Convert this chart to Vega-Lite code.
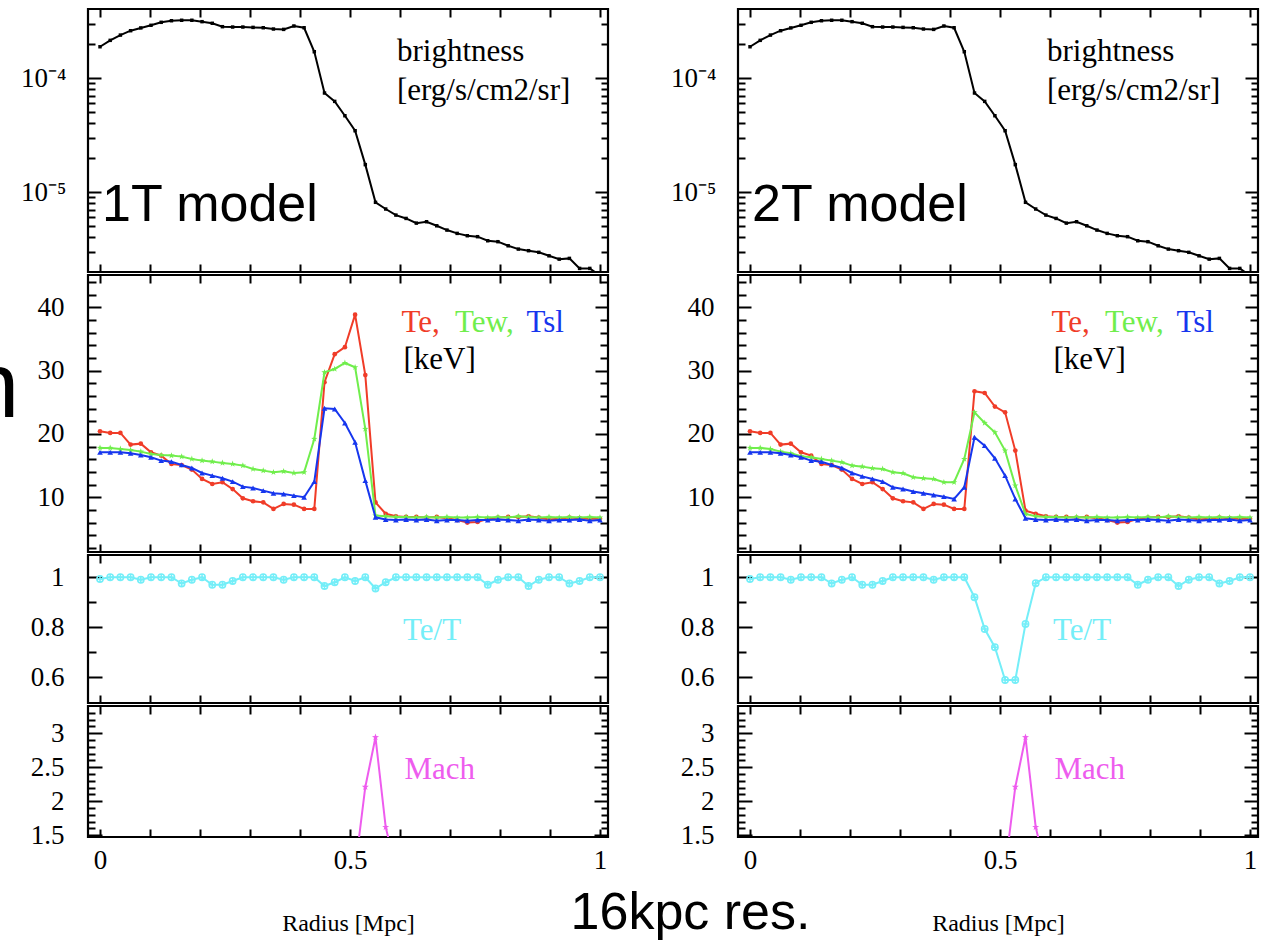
{
"$schema": "https://vega.github.io/schema/vega-lite/v6.json",
"background": "white",
"padding": {"left": -34, "top": 6, "right": 0, "bottom": 0},
"spacing": 58,
"title": {"text": "16kpc res.", "orient": "bottom", "anchor": "middle", "font": "Liberation Sans", "fontSize": 52, "fontWeight": "normal", "color": "black", "baseline": "alphabetic", "offset": -7, "dx": 77},
"config": {
  "view": {"stroke": "black", "strokeWidth": 2.2},
  "axis": {"grid": false, "domain": false, "format": "~r", "labelFont": "Liberation Serif", "labelFontSize": 27, "labelColor": "black", "tickColor": "black", "tickWidth": 2, "titleFont": "Liberation Serif", "titleFontWeight": "normal", "titleColor": "black"},
  "text": {"font": "Liberation Serif", "fontSize": 31, "align": "left", "baseline": "alphabetic"}
},
"datasets": {
  "d": [
    {"x":0,"b":1.88e-4,"te1":20.42,"tew1":17.79,"tsl1":17.11,"te2":20.42,"tew2":17.79,"tsl2":17.11,"r1":0.993,"r2":0.993},
    {"x":0.0204,"b":2.14e-4,"te1":20.16,"tew1":17.79,"tsl1":17.11,"te2":20.16,"tew2":17.79,"tsl2":17.11,"r1":1,"r2":1},
    {"x":0.0408,"b":2.38e-4,"te1":20.16,"tew1":17.63,"tsl1":17.11,"te2":20.16,"tew2":17.63,"tsl2":17.11,"r1":1,"r2":1},
    {"x":0.0612,"b":2.6e-4,"te1":18.32,"tew1":17.47,"tsl1":16.95,"te2":18.32,"tew2":17.21,"tsl2":16.95,"r1":1,"r2":1},
    {"x":0.0816,"b":2.75e-4,"te1":18.47,"tew1":17.21,"tsl1":16.68,"te2":18.47,"tew2":16.95,"tsl2":16.68,"r1":0.99,"r2":0.99},
    {"x":0.102,"b":2.9e-4,"te1":17.1,"tew1":16.84,"tsl1":16.32,"te2":17.1,"tew2":16.47,"tsl2":16.32,"r1":1,"r2":1},
    {"x":0.1224,"b":3.08e-4,"te1":16.58,"tew1":16.68,"tsl1":15.79,"te2":16.58,"tew2":16.32,"tsl2":15.79,"r1":1,"r2":1},
    {"x":0.1429,"b":3.18e-4,"te1":15.26,"tew1":16.58,"tsl1":15.63,"te2":15.26,"tew2":16.05,"tsl2":15.63,"r1":1,"r2":1},
    {"x":0.1633,"b":3.21e-4,"te1":15.1,"tew1":16.42,"tsl1":15.11,"te2":15.1,"tew2":15.79,"tsl2":15.11,"r1":0.975,"r2":0.975},
    {"x":0.1837,"b":3.21e-4,"te1":14.37,"tew1":16.05,"tsl1":14.63,"te2":14.37,"tew2":15.53,"tsl2":14.63,"r1":0.99,"r2":0.99},
    {"x":0.2041,"b":3.12e-4,"te1":12.9,"tew1":15.79,"tsl1":13.84,"te2":12.9,"tew2":15.0,"tsl2":13.84,"r1":1,"r2":1},
    {"x":0.2245,"b":3.02e-4,"te1":12.1,"tew1":15.63,"tsl1":13.42,"te2":12.1,"tew2":14.84,"tsl2":13.3,"r1":0.97,"r2":0.97},
    {"x":0.2449,"b":2.82e-4,"te1":12.37,"tew1":15.42,"tsl1":13.0,"te2":12.37,"tew2":14.58,"tsl2":12.9,"r1":0.97,"r2":0.97},
    {"x":0.2653,"b":2.8e-4,"te1":11.3,"tew1":15.26,"tsl1":12.47,"te2":11.3,"tew2":14.47,"tsl2":12.47,"r1":0.985,"r2":0.985},
    {"x":0.2857,"b":2.8e-4,"te1":9.84,"tew1":15.0,"tsl1":11.68,"te2":9.84,"tew2":13.95,"tsl2":11.58,"r1":1,"r2":1},
    {"x":0.3061,"b":2.78e-4,"te1":9.37,"tew1":14.47,"tsl1":11.47,"te2":9.37,"tew2":13.79,"tsl2":11.3,"r1":1,"r2":1},
    {"x":0.3265,"b":2.76e-4,"te1":9.2,"tew1":14.21,"tsl1":11.05,"te2":9.2,"tew2":13.16,"tsl2":10.9,"r1":1,"r2":1},
    {"x":0.3469,"b":2.69e-4,"te1":8.16,"tew1":13.95,"tsl1":10.63,"te2":8.16,"tew2":13.0,"tsl2":10.63,"r1":1,"r2":1},
    {"x":0.3673,"b":2.67e-4,"te1":8.95,"tew1":14.1,"tsl1":10.53,"te2":8.95,"tew2":12.89,"tsl2":10.37,"r1":0.99,"r2":0.99},
    {"x":0.3878,"b":2.86e-4,"te1":8.84,"tew1":13.84,"tsl1":10.26,"te2":8.84,"tew2":12.37,"tsl2":10.1,"r1":1,"r2":1},
    {"x":0.4082,"b":2.76e-4,"te1":8.16,"tew1":13.95,"tsl1":10.0,"te2":8.16,"tew2":12.37,"tsl2":9.74,"r1":1,"r2":1},
    {"x":0.4286,"b":1.7e-4,"te1":8.16,"tew1":19.21,"tsl1":12.47,"te2":8.16,"tew2":16.05,"tsl2":11.58,"r1":1,"r2":1},
    {"x":0.449,"b":7.39e-5,"te1":28.16,"tew1":29.74,"tsl1":24.05,"te2":26.74,"tew2":23.42,"tsl2":19.47,"r1":0.965,"r2":0.92},
    {"x":0.4694,"b":6.24e-5,"te1":32.6,"tew1":30.26,"tsl1":23.95,"te2":26.47,"tew2":21.74,"tsl2":18.16,"r1":0.98,"r2":0.793},
    {"x":0.4898,"b":4.67e-5,"te1":33.7,"tew1":31.21,"tsl1":21.74,"te2":24.32,"tew2":20.26,"tsl2":16.16,"r1":1,"r2":0.72},
    {"x":0.5102,"b":3.45e-5,"te1":38.84,"tew1":30.53,"tsl1":18.68,"te2":23.42,"tew2":17.37,"tsl2":13.42,"r1":0.985,"r2":0.589,"m":1.0},
    {"x":0.5306,"b":1.74e-5,"te1":29.3,"tew1":20.79,"tsl1":12.63,"te2":17.37,"tew2":11.84,"tsl2":9.74,"r1":1,"r2":0.589,"m":2.21},
    {"x":0.551,"b":8.13e-6,"te1":9.2,"tew1":7.11,"tsl1":6.84,"te2":7.89,"tew2":7.37,"tsl2":6.68,"r1":0.955,"r2":0.813,"m":2.94},
    {"x":0.5714,"b":7.1e-6,"te1":7.4,"tew1":7.0,"tsl1":6.5,"te2":7.4,"tew2":7.0,"tsl2":6.5,"r1":0.98,"r2":0.976,"m":1.62},
    {"x":0.5918,"b":6.28e-6,"te1":7.0,"tew1":6.9,"tsl1":6.4,"te2":7.0,"tew2":6.9,"tsl2":6.4,"r1":1,"r2":1,"m":1.0},
    {"x":0.6122,"b":5.87e-6,"te1":6.9,"tew1":6.9,"tsl1":6.5,"te2":6.9,"tew2":6.9,"tsl2":6.5,"r1":1,"r2":1},
    {"x":0.6327,"b":5.34e-6,"te1":6.9,"tew1":6.8,"tsl1":6.4,"te2":6.9,"tew2":6.8,"tsl2":6.4,"r1":1,"r2":1},
    {"x":0.6531,"b":5.49e-6,"te1":6.8,"tew1":6.9,"tsl1":6.5,"te2":6.8,"tew2":6.9,"tsl2":6.5,"r1":1,"r2":1},
    {"x":0.6735,"b":5.06e-6,"te1":6.9,"tew1":6.8,"tsl1":6.3,"te2":6.9,"tew2":6.8,"tsl2":6.3,"r1":1,"r2":1},
    {"x":0.6939,"b":4.64e-6,"te1":6.7,"tew1":6.9,"tsl1":6.4,"te2":6.7,"tew2":6.9,"tsl2":6.4,"r1":1,"r2":1},
    {"x":0.7143,"b":4.34e-6,"te1":6.4,"tew1":6.8,"tsl1":6.4,"te2":6.4,"tew2":6.8,"tsl2":6.4,"r1":1,"r2":1},
    {"x":0.7347,"b":4.14e-6,"te1":6.0,"tew1":6.8,"tsl1":6.3,"te2":6.0,"tew2":6.8,"tsl2":6.3,"r1":1,"r2":1},
    {"x":0.7551,"b":4.06e-6,"te1":6.1,"tew1":6.9,"tsl1":6.4,"te2":6.1,"tew2":6.9,"tsl2":6.4,"r1":1,"r2":1},
    {"x":0.7755,"b":3.74e-6,"te1":6.6,"tew1":6.8,"tsl1":6.4,"te2":6.6,"tew2":6.8,"tsl2":6.4,"r1":0.97,"r2":0.97},
    {"x":0.7959,"b":3.67e-6,"te1":6.8,"tew1":6.9,"tsl1":6.5,"te2":6.8,"tew2":6.9,"tsl2":6.5,"r1":0.99,"r2":0.99},
    {"x":0.8163,"b":3.38e-6,"te1":6.9,"tew1":6.8,"tsl1":6.4,"te2":6.9,"tew2":6.8,"tsl2":6.4,"r1":1,"r2":1},
    {"x":0.8367,"b":3.16e-6,"te1":6.9,"tew1":7.0,"tsl1":6.3,"te2":6.9,"tew2":7.0,"tsl2":6.3,"r1":1,"r2":1},
    {"x":0.8571,"b":3.06e-6,"te1":7.0,"tew1":6.9,"tsl1":6.5,"te2":7.0,"tew2":6.9,"tsl2":6.5,"r1":0.965,"r2":0.965},
    {"x":0.8776,"b":2.96e-6,"te1":6.8,"tew1":6.8,"tsl1":6.4,"te2":6.8,"tew2":6.8,"tsl2":6.4,"r1":0.99,"r2":0.99},
    {"x":0.898,"b":2.76e-6,"te1":6.5,"tew1":6.9,"tsl1":6.3,"te2":6.5,"tew2":6.9,"tsl2":6.3,"r1":1,"r2":1},
    {"x":0.9184,"b":2.58e-6,"te1":6.6,"tew1":6.8,"tsl1":6.4,"te2":6.6,"tew2":6.8,"tsl2":6.4,"r1":1,"r2":1},
    {"x":0.9388,"b":2.62e-6,"te1":6.8,"tew1":6.9,"tsl1":6.4,"te2":6.8,"tew2":6.9,"tsl2":6.4,"r1":0.975,"r2":0.975},
    {"x":0.9592,"b":2.14e-6,"te1":6.7,"tew1":6.8,"tsl1":6.5,"te2":6.7,"tew2":6.8,"tsl2":6.5,"r1":0.985,"r2":0.985},
    {"x":0.9796,"b":2.14e-6,"te1":6.6,"tew1":6.9,"tsl1":6.3,"te2":6.6,"tew2":6.9,"tsl2":6.3,"r1":1,"r2":1},
    {"x":1.0,"b":1.85e-6,"te1":6.6,"tew1":6.8,"tsl1":6.4,"te2":6.6,"tew2":6.8,"tsl2":6.4,"r1":1,"r2":1}
  ]
},
"hconcat": [
 {"vconcat": [
  {"width": 520, "height": 263, "data": {"name": "d"},
   "resolve": {"axis": {"x": "independent", "y": "independent"}},
   "layer": [
    {"mark": {"type": "line", "color": "black", "strokeWidth": 2, "clip": true, "point": {"shape": "square", "filled": true, "size": 12, "color": "black"}},
     "encoding": {"x": {"field": "x", "type": "quantitative", "scale": {"domain": [-0.024, 1.016], "nice": false, "zero": false}, "axis": null},
       "y": {"field": "b", "type": "quantitative", "scale": {"type": "log", "domain": [1.99e-6, 4.03e-4], "nice": false}, "axis": {"orient": "left", "values": [0.0001, 0.00001], "labelExpr": "datum.value > 0.00005 ? '10⁻⁴' : '10⁻⁵'", "ticks": false, "labelPadding": 22, "title": null}}}},
    {"mark": {"type": "point", "opacity": 0}, "encoding": {"x": {"field": "x", "type": "quantitative", "axis": {"orient": "bottom", "offset": -8, "tickSize": 8, "values": [0, 0.1, 0.2, 0.3, 0.4, 0.5, 0.6, 0.7, 0.8, 0.9, 1], "labels": false, "title": null}}, "y": {"field": "b", "type": "quantitative", "axis": {"orient": "left", "offset": -13, "tickSize": 13, "values": [0.0001, 0.00001], "labels": false, "title": null}}}},
    {"mark": {"type": "point", "opacity": 0}, "encoding": {"x": {"field": "x", "type": "quantitative", "axis": {"orient": "top", "offset": -8, "tickSize": 8, "values": [0, 0.1, 0.2, 0.3, 0.4, 0.5, 0.6, 0.7, 0.8, 0.9, 1], "labels": false, "title": null}}, "y": {"field": "b", "type": "quantitative", "axis": {"orient": "right", "offset": -13, "tickSize": 13, "values": [0.0001, 0.00001], "labels": false, "title": null}}}},
    {"mark": {"type": "point", "opacity": 0}, "encoding": {"x": {"field": "x", "type": "quantitative", "axis": null}, "y": {"field": "b", "type": "quantitative", "axis": {"orient": "left", "offset": -7, "tickSize": 7, "values": [3e-6, 4e-6, 5e-6, 6e-6, 7e-6, 8e-6, 9e-6, 2e-5, 3e-5, 4e-5, 5e-5, 6e-5, 7e-5, 8e-5, 9e-5, 2e-4, 3e-4], "labels": false, "title": null}}}},
    {"mark": {"type": "point", "opacity": 0}, "encoding": {"x": {"field": "x", "type": "quantitative", "axis": null}, "y": {"field": "b", "type": "quantitative", "axis": {"orient": "right", "offset": -7, "tickSize": 7, "values": [3e-6, 4e-6, 5e-6, 6e-6, 7e-6, 8e-6, 9e-6, 2e-5, 3e-5, 4e-5, 5e-5, 6e-5, 7e-5, 8e-5, 9e-5, 2e-4, 3e-4], "labels": false, "title": null}}}},
    {"data": {"values": [{}]}, "mark": {"type": "text"}, "encoding": {"x": {"datum": 0.594, "type": "quantitative", "axis": null}, "y": {"datum": 1.41e-4, "type": "quantitative", "axis": null}, "text": {"value": "brightness"}}},
    {"data": {"values": [{}]}, "mark": {"type": "text"}, "encoding": {"x": {"datum": 0.594, "type": "quantitative", "axis": null}, "y": {"datum": 6.41e-5, "type": "quantitative", "axis": null}, "text": {"value": "[erg/s/cm2/sr]"}}},
    {"data": {"values": [{}]}, "mark": {"type": "text", "font": "Liberation Sans", "fontSize": 52}, "encoding": {"x": {"datum": 0.004, "type": "quantitative", "axis": null}, "y": {"datum": 5.57e-6, "type": "quantitative", "axis": null}, "text": {"value": "1T model"}}}
   ]},
  {"width": 520, "height": 277, "data": {"name": "d"},
   "resolve": {"axis": {"x": "independent", "y": "independent"}},
   "layer": [
    {"mark": {"type": "line", "color": "#f03c28", "strokeWidth": 2, "clip": true, "point": {"shape": "circle", "filled": true, "size": 22, "color": "#f03c28"}},
     "encoding": {"x": {"field": "x", "type": "quantitative", "scale": {"domain": [-0.024, 1.016], "nice": false, "zero": false}, "axis": null},
       "y": {"field": "te1", "type": "quantitative", "scale": {"domain": [1.36, 45.1], "nice": false, "zero": false}, "axis": {"orient": "left", "values": [10, 20, 30, 40], "ticks": false, "labelPadding": 24, "title": null}}}},
    {"mark": {"type": "point", "opacity": 0}, "encoding": {"x": {"field": "x", "type": "quantitative", "axis": {"orient": "bottom", "offset": -8, "tickSize": 8, "values": [0, 0.1, 0.2, 0.3, 0.4, 0.5, 0.6, 0.7, 0.8, 0.9, 1], "labels": false, "title": null}}, "y": {"field": "te1", "type": "quantitative", "axis": {"orient": "left", "offset": -13, "tickSize": 13, "values": [10, 20, 30, 40], "labels": false, "title": null}}}},
    {"mark": {"type": "point", "opacity": 0}, "encoding": {"x": {"field": "x", "type": "quantitative", "axis": {"orient": "top", "offset": -8, "tickSize": 8, "values": [0, 0.1, 0.2, 0.3, 0.4, 0.5, 0.6, 0.7, 0.8, 0.9, 1], "labels": false, "title": null}}, "y": {"field": "te1", "type": "quantitative", "axis": {"orient": "right", "offset": -13, "tickSize": 13, "values": [10, 20, 30, 40], "labels": false, "title": null}}}},
    {"mark": {"type": "point", "opacity": 0}, "encoding": {"x": {"field": "x", "type": "quantitative", "axis": null}, "y": {"field": "te1", "type": "quantitative", "axis": {"orient": "left", "offset": -8, "tickSize": 8, "values": [2, 4, 6, 8, 12, 14, 16, 18, 22, 24, 26, 28, 32, 34, 36, 38, 42, 44], "labels": false, "title": null}}}},
    {"mark": {"type": "point", "opacity": 0}, "encoding": {"x": {"field": "x", "type": "quantitative", "axis": null}, "y": {"field": "te1", "type": "quantitative", "axis": {"orient": "right", "offset": -8, "tickSize": 8, "values": [2, 4, 6, 8, 12, 14, 16, 18, 22, 24, 26, 28, 32, 34, 36, 38, 42, 44], "labels": false, "title": null}}}},
    {"mark": {"type": "line", "color": "#70ee4c", "strokeWidth": 2, "clip": true, "point": {"shape": "M0,-1L0.235,-0.324L0.951,-0.309L0.38,0.124L0.588,0.809L0,0.4L-0.588,0.809L-0.38,0.124L-0.951,-0.309L-0.235,-0.324Z", "filled": true, "size": 45, "color": "#70ee4c"}},
     "encoding": {"x": {"field": "x", "type": "quantitative", "axis": null}, "y": {"field": "tew1", "type": "quantitative", "axis": null}}},
    {"mark": {"type": "line", "color": "#1636ee", "strokeWidth": 2, "clip": true, "point": {"shape": "triangle-up", "filled": true, "size": 32, "color": "#1636ee"}},
     "encoding": {"x": {"field": "x", "type": "quantitative", "axis": null}, "y": {"field": "tsl1", "type": "quantitative", "axis": null}}},
    {"data": {"values": [{}]}, "mark": {"type": "text", "color": "#f03c28"}, "encoding": {"x": {"datum": 0.603, "type": "quantitative", "axis": null}, "y": {"datum": 36.05, "type": "quantitative", "axis": null}, "text": {"value": "Te,"}}},
    {"data": {"values": [{}]}, "mark": {"type": "text", "color": "#70ee4c"}, "encoding": {"x": {"datum": 0.71, "type": "quantitative", "axis": null}, "y": {"datum": 36.05, "type": "quantitative", "axis": null}, "text": {"value": "Tew,"}}},
    {"data": {"values": [{}]}, "mark": {"type": "text", "color": "#1636ee"}, "encoding": {"x": {"datum": 0.853, "type": "quantitative", "axis": null}, "y": {"datum": 36.05, "type": "quantitative", "axis": null}, "text": {"value": "Tsl"}}},
    {"data": {"values": [{}]}, "mark": {"type": "text", "color": "black"}, "encoding": {"x": {"datum": 0.607, "type": "quantitative", "axis": null}, "y": {"datum": 30.26, "type": "quantitative", "axis": null}, "text": {"value": "[keV]"}}},
    {"data": {"values": [{}]}, "mark": {"type": "text", "color": "black", "font": "Liberation Sans", "fontSize": 92, "clip": false}, "encoding": {"x": {"datum": -0.264, "type": "quantitative", "axis": null}, "y": {"datum": 22.68, "type": "quantitative", "axis": null}, "text": {"value": "n"}}}
   ]},
  {"width": 520, "height": 148, "data": {"name": "d"},
   "resolve": {"axis": {"x": "independent", "y": "independent"}},
   "layer": [
    {"mark": {"type": "line", "color": "#74eef8", "strokeWidth": 2, "clip": true, "point": {"shape": "M-1,0A1,1,0,1,0,1,0A1,1,0,1,0,-1,0ZM-1,0L1,0M0,-1L0,1", "filled": false, "size": 40, "strokeWidth": 1.5, "color": "#74eef8"}},
     "encoding": {"x": {"field": "x", "type": "quantitative", "scale": {"domain": [-0.024, 1.016], "nice": false, "zero": false}, "axis": null},
       "y": {"field": "r1", "type": "quantitative", "scale": {"domain": [0.497, 1.089], "nice": false, "zero": false}, "axis": {"orient": "left", "values": [0.6, 0.8, 1], "ticks": false, "labelPadding": 24, "title": null}}}},
    {"mark": {"type": "point", "opacity": 0}, "encoding": {"x": {"field": "x", "type": "quantitative", "axis": {"orient": "bottom", "offset": -8, "tickSize": 8, "values": [0, 0.1, 0.2, 0.3, 0.4, 0.5, 0.6, 0.7, 0.8, 0.9, 1], "labels": false, "title": null}}, "y": {"field": "r1", "type": "quantitative", "axis": {"orient": "left", "offset": -14, "tickSize": 14, "values": [0.6, 0.8, 1], "labels": false, "title": null}}}},
    {"mark": {"type": "point", "opacity": 0}, "encoding": {"x": {"field": "x", "type": "quantitative", "axis": {"orient": "top", "offset": -8, "tickSize": 8, "values": [0, 0.1, 0.2, 0.3, 0.4, 0.5, 0.6, 0.7, 0.8, 0.9, 1], "labels": false, "title": null}}, "y": {"field": "r1", "type": "quantitative", "axis": {"orient": "right", "offset": -14, "tickSize": 14, "values": [0.6, 0.8, 1], "labels": false, "title": null}}}},
    {"mark": {"type": "point", "opacity": 0}, "encoding": {"x": {"field": "x", "type": "quantitative", "axis": null}, "y": {"field": "r1", "type": "quantitative", "axis": {"orient": "left", "offset": -8, "tickSize": 8, "values": [0.7, 0.9], "labels": false, "title": null}}}},
    {"mark": {"type": "point", "opacity": 0}, "encoding": {"x": {"field": "x", "type": "quantitative", "axis": null}, "y": {"field": "r1", "type": "quantitative", "axis": {"orient": "right", "offset": -8, "tickSize": 8, "values": [0.7, 0.9], "labels": false, "title": null}}}},
    {"data": {"values": [{}]}, "mark": {"type": "text", "color": "#74eef8"}, "encoding": {"x": {"datum": 0.606, "type": "quantitative", "axis": null}, "y": {"datum": 0.749, "type": "quantitative", "axis": null}, "text": {"value": "Te/T"}}}
   ]},
  {"width": 520, "height": 131, "data": {"name": "d"},
   "resolve": {"axis": {"x": "independent", "y": "independent"}},
   "layer": [
    {"mark": {"type": "line", "color": "#ee5cee", "strokeWidth": 2, "clip": true, "point": {"shape": "M0,-1L0.235,-0.324L0.951,-0.309L0.38,0.124L0.588,0.809L0,0.4L-0.588,0.809L-0.38,0.124L-0.951,-0.309L-0.235,-0.324Z", "filled": true, "size": 55, "color": "#ee5cee"}},
     "encoding": {"x": {"field": "x", "type": "quantitative", "scale": {"domain": [-0.024, 1.016], "nice": false, "zero": false}, "axis": {"orient": "bottom", "values": [0, 0.5, 1], "ticks": false, "labelPadding": 10, "title": "Radius [Mpc]", "titleFontSize": 24, "titlePadding": 38}},
       "y": {"field": "m", "type": "quantitative", "scale": {"domain": [1.475, 3.4], "nice": false, "zero": false}, "axis": {"orient": "left", "values": [1.5, 2, 2.5, 3], "ticks": false, "labelPadding": 24, "title": null}}}},
    {"mark": {"type": "point", "opacity": 0}, "encoding": {"x": {"field": "x", "type": "quantitative", "axis": {"orient": "bottom", "offset": -8, "tickSize": 8, "values": [0, 0.1, 0.2, 0.3, 0.4, 0.5, 0.6, 0.7, 0.8, 0.9, 1], "labels": false, "title": null}}, "y": {"field": "m", "type": "quantitative", "axis": {"orient": "left", "offset": -14, "tickSize": 14, "values": [1.5, 2, 2.5, 3], "labels": false, "title": null}}}},
    {"mark": {"type": "point", "opacity": 0}, "encoding": {"x": {"field": "x", "type": "quantitative", "axis": {"orient": "top", "offset": -8, "tickSize": 8, "values": [0, 0.1, 0.2, 0.3, 0.4, 0.5, 0.6, 0.7, 0.8, 0.9, 1], "labels": false, "title": null}}, "y": {"field": "m", "type": "quantitative", "axis": {"orient": "right", "offset": -14, "tickSize": 14, "values": [1.5, 2, 2.5, 3], "labels": false, "title": null}}}},
    {"mark": {"type": "point", "opacity": 0}, "encoding": {"x": {"field": "x", "type": "quantitative", "axis": null}, "y": {"field": "m", "type": "quantitative", "axis": {"orient": "left", "offset": -7, "tickSize": 7, "values": [1.6, 1.7, 1.8, 1.9, 2.1, 2.2, 2.3, 2.4, 2.6, 2.7, 2.8, 2.9, 3.1, 3.2, 3.3], "labels": false, "title": null}}}},
    {"mark": {"type": "point", "opacity": 0}, "encoding": {"x": {"field": "x", "type": "quantitative", "axis": null}, "y": {"field": "m", "type": "quantitative", "axis": {"orient": "right", "offset": -7, "tickSize": 7, "values": [1.6, 1.7, 1.8, 1.9, 2.1, 2.2, 2.3, 2.4, 2.6, 2.7, 2.8, 2.9, 3.1, 3.2, 3.3], "labels": false, "title": null}}}},
    {"data": {"values": [{}]}, "mark": {"type": "text", "color": "#ee5cee"}, "encoding": {"x": {"datum": 0.609, "type": "quantitative", "axis": null}, "y": {"datum": 2.33, "type": "quantitative", "axis": null}, "text": {"value": "Mach"}}}
   ]}
 ], "spacing": 3, "bounds": "flush"},
 {"vconcat": [
  {"width": 520, "height": 263, "data": {"name": "d"},
   "resolve": {"axis": {"x": "independent", "y": "independent"}},
   "layer": [
    {"mark": {"type": "line", "color": "black", "strokeWidth": 2, "clip": true, "point": {"shape": "square", "filled": true, "size": 12, "color": "black"}},
     "encoding": {"x": {"field": "x", "type": "quantitative", "scale": {"domain": [-0.024, 1.016], "nice": false, "zero": false}, "axis": null},
       "y": {"field": "b", "type": "quantitative", "scale": {"type": "log", "domain": [1.99e-6, 4.03e-4], "nice": false}, "axis": {"orient": "left", "values": [0.0001, 0.00001], "labelExpr": "datum.value > 0.00005 ? '10⁻⁴' : '10⁻⁵'", "ticks": false, "labelPadding": 22, "title": null}}}},
    {"mark": {"type": "point", "opacity": 0}, "encoding": {"x": {"field": "x", "type": "quantitative", "axis": {"orient": "bottom", "offset": -8, "tickSize": 8, "values": [0, 0.1, 0.2, 0.3, 0.4, 0.5, 0.6, 0.7, 0.8, 0.9, 1], "labels": false, "title": null}}, "y": {"field": "b", "type": "quantitative", "axis": {"orient": "left", "offset": -13, "tickSize": 13, "values": [0.0001, 0.00001], "labels": false, "title": null}}}},
    {"mark": {"type": "point", "opacity": 0}, "encoding": {"x": {"field": "x", "type": "quantitative", "axis": {"orient": "top", "offset": -8, "tickSize": 8, "values": [0, 0.1, 0.2, 0.3, 0.4, 0.5, 0.6, 0.7, 0.8, 0.9, 1], "labels": false, "title": null}}, "y": {"field": "b", "type": "quantitative", "axis": {"orient": "right", "offset": -13, "tickSize": 13, "values": [0.0001, 0.00001], "labels": false, "title": null}}}},
    {"mark": {"type": "point", "opacity": 0}, "encoding": {"x": {"field": "x", "type": "quantitative", "axis": null}, "y": {"field": "b", "type": "quantitative", "axis": {"orient": "left", "offset": -7, "tickSize": 7, "values": [3e-6, 4e-6, 5e-6, 6e-6, 7e-6, 8e-6, 9e-6, 2e-5, 3e-5, 4e-5, 5e-5, 6e-5, 7e-5, 8e-5, 9e-5, 2e-4, 3e-4], "labels": false, "title": null}}}},
    {"mark": {"type": "point", "opacity": 0}, "encoding": {"x": {"field": "x", "type": "quantitative", "axis": null}, "y": {"field": "b", "type": "quantitative", "axis": {"orient": "right", "offset": -7, "tickSize": 7, "values": [3e-6, 4e-6, 5e-6, 6e-6, 7e-6, 8e-6, 9e-6, 2e-5, 3e-5, 4e-5, 5e-5, 6e-5, 7e-5, 8e-5, 9e-5, 2e-4, 3e-4], "labels": false, "title": null}}}},
    {"data": {"values": [{}]}, "mark": {"type": "text"}, "encoding": {"x": {"datum": 0.594, "type": "quantitative", "axis": null}, "y": {"datum": 1.41e-4, "type": "quantitative", "axis": null}, "text": {"value": "brightness"}}},
    {"data": {"values": [{}]}, "mark": {"type": "text"}, "encoding": {"x": {"datum": 0.594, "type": "quantitative", "axis": null}, "y": {"datum": 6.41e-5, "type": "quantitative", "axis": null}, "text": {"value": "[erg/s/cm2/sr]"}}},
    {"data": {"values": [{}]}, "mark": {"type": "text", "font": "Liberation Sans", "fontSize": 52}, "encoding": {"x": {"datum": 0.004, "type": "quantitative", "axis": null}, "y": {"datum": 5.57e-6, "type": "quantitative", "axis": null}, "text": {"value": "2T model"}}}
   ]},
  {"width": 520, "height": 277, "data": {"name": "d"},
   "resolve": {"axis": {"x": "independent", "y": "independent"}},
   "layer": [
    {"mark": {"type": "line", "color": "#f03c28", "strokeWidth": 2, "clip": true, "point": {"shape": "circle", "filled": true, "size": 22, "color": "#f03c28"}},
     "encoding": {"x": {"field": "x", "type": "quantitative", "scale": {"domain": [-0.024, 1.016], "nice": false, "zero": false}, "axis": null},
       "y": {"field": "te2", "type": "quantitative", "scale": {"domain": [1.36, 45.1], "nice": false, "zero": false}, "axis": {"orient": "left", "values": [10, 20, 30, 40], "ticks": false, "labelPadding": 24, "title": null}}}},
    {"mark": {"type": "point", "opacity": 0}, "encoding": {"x": {"field": "x", "type": "quantitative", "axis": {"orient": "bottom", "offset": -8, "tickSize": 8, "values": [0, 0.1, 0.2, 0.3, 0.4, 0.5, 0.6, 0.7, 0.8, 0.9, 1], "labels": false, "title": null}}, "y": {"field": "te2", "type": "quantitative", "axis": {"orient": "left", "offset": -13, "tickSize": 13, "values": [10, 20, 30, 40], "labels": false, "title": null}}}},
    {"mark": {"type": "point", "opacity": 0}, "encoding": {"x": {"field": "x", "type": "quantitative", "axis": {"orient": "top", "offset": -8, "tickSize": 8, "values": [0, 0.1, 0.2, 0.3, 0.4, 0.5, 0.6, 0.7, 0.8, 0.9, 1], "labels": false, "title": null}}, "y": {"field": "te2", "type": "quantitative", "axis": {"orient": "right", "offset": -13, "tickSize": 13, "values": [10, 20, 30, 40], "labels": false, "title": null}}}},
    {"mark": {"type": "point", "opacity": 0}, "encoding": {"x": {"field": "x", "type": "quantitative", "axis": null}, "y": {"field": "te2", "type": "quantitative", "axis": {"orient": "left", "offset": -8, "tickSize": 8, "values": [2, 4, 6, 8, 12, 14, 16, 18, 22, 24, 26, 28, 32, 34, 36, 38, 42, 44], "labels": false, "title": null}}}},
    {"mark": {"type": "point", "opacity": 0}, "encoding": {"x": {"field": "x", "type": "quantitative", "axis": null}, "y": {"field": "te2", "type": "quantitative", "axis": {"orient": "right", "offset": -8, "tickSize": 8, "values": [2, 4, 6, 8, 12, 14, 16, 18, 22, 24, 26, 28, 32, 34, 36, 38, 42, 44], "labels": false, "title": null}}}},
    {"mark": {"type": "line", "color": "#70ee4c", "strokeWidth": 2, "clip": true, "point": {"shape": "M0,-1L0.235,-0.324L0.951,-0.309L0.38,0.124L0.588,0.809L0,0.4L-0.588,0.809L-0.38,0.124L-0.951,-0.309L-0.235,-0.324Z", "filled": true, "size": 45, "color": "#70ee4c"}},
     "encoding": {"x": {"field": "x", "type": "quantitative", "axis": null}, "y": {"field": "tew2", "type": "quantitative", "axis": null}}},
    {"mark": {"type": "line", "color": "#1636ee", "strokeWidth": 2, "clip": true, "point": {"shape": "triangle-up", "filled": true, "size": 32, "color": "#1636ee"}},
     "encoding": {"x": {"field": "x", "type": "quantitative", "axis": null}, "y": {"field": "tsl2", "type": "quantitative", "axis": null}}},
    {"data": {"values": [{}]}, "mark": {"type": "text", "color": "#f03c28"}, "encoding": {"x": {"datum": 0.603, "type": "quantitative", "axis": null}, "y": {"datum": 36.05, "type": "quantitative", "axis": null}, "text": {"value": "Te,"}}},
    {"data": {"values": [{}]}, "mark": {"type": "text", "color": "#70ee4c"}, "encoding": {"x": {"datum": 0.71, "type": "quantitative", "axis": null}, "y": {"datum": 36.05, "type": "quantitative", "axis": null}, "text": {"value": "Tew,"}}},
    {"data": {"values": [{}]}, "mark": {"type": "text", "color": "#1636ee"}, "encoding": {"x": {"datum": 0.853, "type": "quantitative", "axis": null}, "y": {"datum": 36.05, "type": "quantitative", "axis": null}, "text": {"value": "Tsl"}}},
    {"data": {"values": [{}]}, "mark": {"type": "text", "color": "black"}, "encoding": {"x": {"datum": 0.607, "type": "quantitative", "axis": null}, "y": {"datum": 30.26, "type": "quantitative", "axis": null}, "text": {"value": "[keV]"}}}
   ]},
  {"width": 520, "height": 148, "data": {"name": "d"},
   "resolve": {"axis": {"x": "independent", "y": "independent"}},
   "layer": [
    {"mark": {"type": "line", "color": "#74eef8", "strokeWidth": 2, "clip": true, "point": {"shape": "M-1,0A1,1,0,1,0,1,0A1,1,0,1,0,-1,0ZM-1,0L1,0M0,-1L0,1", "filled": false, "size": 40, "strokeWidth": 1.5, "color": "#74eef8"}},
     "encoding": {"x": {"field": "x", "type": "quantitative", "scale": {"domain": [-0.024, 1.016], "nice": false, "zero": false}, "axis": null},
       "y": {"field": "r2", "type": "quantitative", "scale": {"domain": [0.497, 1.089], "nice": false, "zero": false}, "axis": {"orient": "left", "values": [0.6, 0.8, 1], "ticks": false, "labelPadding": 24, "title": null}}}},
    {"mark": {"type": "point", "opacity": 0}, "encoding": {"x": {"field": "x", "type": "quantitative", "axis": {"orient": "bottom", "offset": -8, "tickSize": 8, "values": [0, 0.1, 0.2, 0.3, 0.4, 0.5, 0.6, 0.7, 0.8, 0.9, 1], "labels": false, "title": null}}, "y": {"field": "r2", "type": "quantitative", "axis": {"orient": "left", "offset": -14, "tickSize": 14, "values": [0.6, 0.8, 1], "labels": false, "title": null}}}},
    {"mark": {"type": "point", "opacity": 0}, "encoding": {"x": {"field": "x", "type": "quantitative", "axis": {"orient": "top", "offset": -8, "tickSize": 8, "values": [0, 0.1, 0.2, 0.3, 0.4, 0.5, 0.6, 0.7, 0.8, 0.9, 1], "labels": false, "title": null}}, "y": {"field": "r2", "type": "quantitative", "axis": {"orient": "right", "offset": -14, "tickSize": 14, "values": [0.6, 0.8, 1], "labels": false, "title": null}}}},
    {"mark": {"type": "point", "opacity": 0}, "encoding": {"x": {"field": "x", "type": "quantitative", "axis": null}, "y": {"field": "r2", "type": "quantitative", "axis": {"orient": "left", "offset": -8, "tickSize": 8, "values": [0.7, 0.9], "labels": false, "title": null}}}},
    {"mark": {"type": "point", "opacity": 0}, "encoding": {"x": {"field": "x", "type": "quantitative", "axis": null}, "y": {"field": "r2", "type": "quantitative", "axis": {"orient": "right", "offset": -8, "tickSize": 8, "values": [0.7, 0.9], "labels": false, "title": null}}}},
    {"data": {"values": [{}]}, "mark": {"type": "text", "color": "#74eef8"}, "encoding": {"x": {"datum": 0.606, "type": "quantitative", "axis": null}, "y": {"datum": 0.749, "type": "quantitative", "axis": null}, "text": {"value": "Te/T"}}}
   ]},
  {"width": 520, "height": 131, "data": {"name": "d"},
   "resolve": {"axis": {"x": "independent", "y": "independent"}},
   "layer": [
    {"mark": {"type": "line", "color": "#ee5cee", "strokeWidth": 2, "clip": true, "point": {"shape": "M0,-1L0.235,-0.324L0.951,-0.309L0.38,0.124L0.588,0.809L0,0.4L-0.588,0.809L-0.38,0.124L-0.951,-0.309L-0.235,-0.324Z", "filled": true, "size": 55, "color": "#ee5cee"}},
     "encoding": {"x": {"field": "x", "type": "quantitative", "scale": {"domain": [-0.024, 1.016], "nice": false, "zero": false}, "axis": {"orient": "bottom", "values": [0, 0.5, 1], "ticks": false, "labelPadding": 10, "title": "Radius [Mpc]", "titleFontSize": 24, "titlePadding": 38}},
       "y": {"field": "m", "type": "quantitative", "scale": {"domain": [1.475, 3.4], "nice": false, "zero": false}, "axis": {"orient": "left", "values": [1.5, 2, 2.5, 3], "ticks": false, "labelPadding": 24, "title": null}}}},
    {"mark": {"type": "point", "opacity": 0}, "encoding": {"x": {"field": "x", "type": "quantitative", "axis": {"orient": "bottom", "offset": -8, "tickSize": 8, "values": [0, 0.1, 0.2, 0.3, 0.4, 0.5, 0.6, 0.7, 0.8, 0.9, 1], "labels": false, "title": null}}, "y": {"field": "m", "type": "quantitative", "axis": {"orient": "left", "offset": -14, "tickSize": 14, "values": [1.5, 2, 2.5, 3], "labels": false, "title": null}}}},
    {"mark": {"type": "point", "opacity": 0}, "encoding": {"x": {"field": "x", "type": "quantitative", "axis": {"orient": "top", "offset": -8, "tickSize": 8, "values": [0, 0.1, 0.2, 0.3, 0.4, 0.5, 0.6, 0.7, 0.8, 0.9, 1], "labels": false, "title": null}}, "y": {"field": "m", "type": "quantitative", "axis": {"orient": "right", "offset": -14, "tickSize": 14, "values": [1.5, 2, 2.5, 3], "labels": false, "title": null}}}},
    {"mark": {"type": "point", "opacity": 0}, "encoding": {"x": {"field": "x", "type": "quantitative", "axis": null}, "y": {"field": "m", "type": "quantitative", "axis": {"orient": "left", "offset": -7, "tickSize": 7, "values": [1.6, 1.7, 1.8, 1.9, 2.1, 2.2, 2.3, 2.4, 2.6, 2.7, 2.8, 2.9, 3.1, 3.2, 3.3], "labels": false, "title": null}}}},
    {"mark": {"type": "point", "opacity": 0}, "encoding": {"x": {"field": "x", "type": "quantitative", "axis": null}, "y": {"field": "m", "type": "quantitative", "axis": {"orient": "right", "offset": -7, "tickSize": 7, "values": [1.6, 1.7, 1.8, 1.9, 2.1, 2.2, 2.3, 2.4, 2.6, 2.7, 2.8, 2.9, 3.1, 3.2, 3.3], "labels": false, "title": null}}}},
    {"data": {"values": [{}]}, "mark": {"type": "text", "color": "#ee5cee"}, "encoding": {"x": {"datum": 0.609, "type": "quantitative", "axis": null}, "y": {"datum": 2.33, "type": "quantitative", "axis": null}, "text": {"value": "Mach"}}}
   ]}
 ], "spacing": 3, "bounds": "flush"}
]
}
